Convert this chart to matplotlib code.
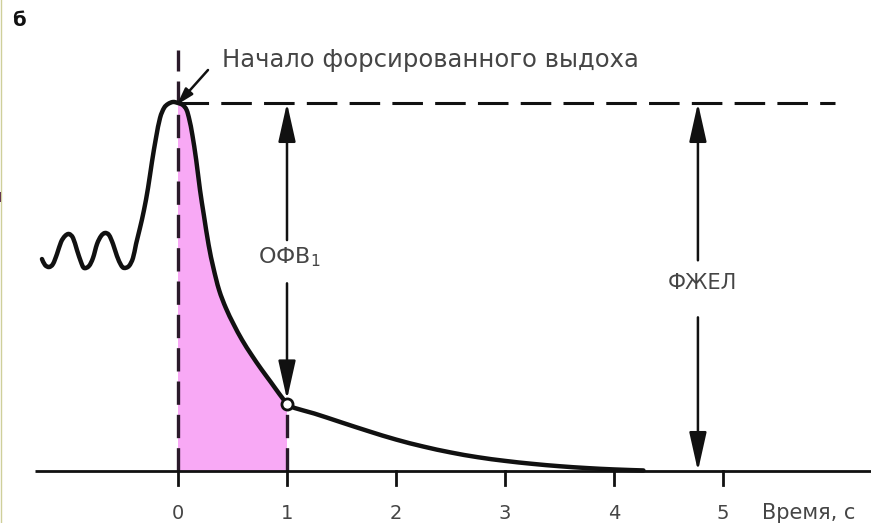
import matplotlib
matplotlib.use("Agg")
import matplotlib.pyplot as plt
from matplotlib.patches import FancyArrowPatch, Rectangle, PathPatch
from matplotlib.path import Path
from matplotlib.lines import Line2D

# Spirogram: lung volume (L) versus time (s); forced expiration starts at t = 0
t_tidal = [-1.248, -1.220, -1.183, -1.147, -1.110, -1.073, -1.037, -1.000,
           -0.963, -0.927, -0.890, -0.862, -0.817, -0.780, -0.743, -0.706,
           -0.670, -0.633, -0.596, -0.560, -0.523, -0.495, -0.450, -0.413,
           -0.385, -0.349, -0.312, -0.275, -0.239, -0.202, -0.165, -0.128,
           -0.092, -0.046]
v_tidal = [2.304, 2.239, 2.217, 2.250, 2.359, 2.489, 2.554, 2.576,
           2.533, 2.402, 2.272, 2.207, 2.228, 2.315, 2.467, 2.554,
           2.587, 2.565, 2.467, 2.337, 2.239, 2.207, 2.228, 2.315,
           2.467, 2.641, 2.837, 3.076, 3.359, 3.620, 3.837, 3.946,
           3.989, 4.011]

t_forced = [0.0, 0.044, 0.079, 0.105, 0.132, 0.167, 0.202, 0.237, 0.281,
            0.325, 0.377, 0.439, 0.509, 0.588, 0.675, 0.763, 0.851, 0.930, 1.0]
v_forced = [4.0, 3.978, 3.924, 3.815, 3.652, 3.380, 3.054, 2.783, 2.457,
            2.207, 1.967, 1.772, 1.598, 1.424, 1.261, 1.109, 0.967, 0.837, 0.728]

t_tail = [1.0, 1.07, 1.25, 1.5, 1.75, 2.0, 2.25, 2.5, 2.75, 3.0,
          3.25, 3.5, 3.75, 4.0, 4.27]
v_tail = [0.728, 0.685, 0.625, 0.528, 0.432, 0.342, 0.266, 0.202, 0.150,
          0.110, 0.078, 0.052, 0.032, 0.017, 0.006]

peak_volume = 4.0        # volume at start of forced expiration
fev1_time = 1.0
fev1_volume = 0.728      # volume remaining after 1 s
fvc_time = 4.77          # where the FVC bracket is drawn

time_ticks = [0, 1, 2, 3, 4, 5]
time_labels = ["0", "1", "2", "3", "4", "5"]

title_letter = "б"
start_label = "Начало форсированного выдоха"
fev1_label = "ОФВ$_1$"
fvc_label = "ФЖЕЛ"
x_label = "Время, с"

INK = "#111111"
TXT = "#454545"
PINK = "#f8a9f5"


def smooth_path(xs, ys):
    """Catmull-Rom curve through the given points as cubic Bezier segments."""
    pts = list(zip(xs, ys))
    n = len(pts)
    verts = [pts[0]]
    codes = [Path.MOVETO]
    for i in range(n - 1):
        p0 = pts[i - 1] if i > 0 else pts[i]
        p1, p2 = pts[i], pts[i + 1]
        p3 = pts[i + 2] if i + 2 < n else pts[i + 1]
        c1 = (p1[0] + (p2[0] - p0[0]) / 6, p1[1] + (p2[1] - p0[1]) / 6)
        c2 = (p2[0] - (p3[0] - p1[0]) / 6, p2[1] - (p3[1] - p1[1]) / 6)
        verts += [c1, c2, p2]
        codes += [Path.CURVE4] * 3
    return verts, codes


fig = plt.figure(figsize=(8.71, 5.23), dpi=100)
ax = fig.add_axes([0, 0, 1, 1])
ax.set_xlim(-178 / 109, (871 - 178) / 109)
ax.set_ylim(-52 / 92, 471 / 92)
ax.axis("off")

# shaded FEV1 region, bounded by the same smooth curve
fv, fc = smooth_path(t_forced, v_forced)
fill_path = Path(fv + [(fev1_time, 0), (0, 0), (0, 0)],
                 fc + [Path.LINETO, Path.LINETO, Path.CLOSEPOLY])
ax.add_patch(PathPatch(fill_path, facecolor=PINK, lw=0, zorder=1))

# baseline and ticks
ax.plot([(35 - 178) / 109, 7], [0, 0], color=INK, lw=2.0, zorder=3,
        solid_capstyle="butt")
for tk, lab in zip(time_ticks, time_labels):
    ax.plot([tk, tk], [0, -0.15], color=INK, lw=2.0, zorder=3)
    ax.text(tk, -0.46, lab, ha="center", va="center", fontsize=14,
            color=TXT)
ax.text((762 - 178) / 109, -0.46, x_label, ha="left", va="center",
        fontsize=15, color=TXT, clip_on=False)

# dashed guides
ax.plot([0, 0], [0, 4.58], color="#2a1a2a", lw=2.4, ls=(0, (7, 3)), zorder=2)
ax.plot([fev1_time, fev1_time], [0, fev1_volume], color="#2a1a2a", lw=2.4,
        ls=(0, (7, 3)), zorder=2)
ax.plot([0, 6.03], [peak_volume, peak_volume], color=INK, lw=2.2,
        ls=(0, (10, 4)), zorder=2)

# spirogram curve: breathing + forced part up to 1 s, then the tail
cv, cc = smooth_path(t_tidal + t_forced, v_tidal + v_forced)
ax.add_patch(PathPatch(Path(cv, cc), fill=False, edgecolor=INK, lw=3.2,
                       capstyle="round", joinstyle="round", zorder=4))
tv, tc = smooth_path(t_tail, v_tail)
ax.add_patch(PathPatch(Path(tv, tc), fill=False, edgecolor=INK, lw=3.2,
                       capstyle="round", joinstyle="round", zorder=4))
ax.plot([fev1_time], [fev1_volume], marker="o", ms=8, mfc="white",
        mec=INK, mew=2, zorder=5)


def arrow(x, y0, y1):
    a = FancyArrowPatch((x, y0), (x, y1),
                        arrowstyle="-|>,head_length=1.7,head_width=0.38",
                        mutation_scale=14, color=INK, lw=1.8,
                        shrinkA=0, shrinkB=0, zorder=5)
    ax.add_patch(a)


# FEV1 bracket
arrow(fev1_time, 2.51, peak_volume)
arrow(fev1_time, 2.04, fev1_volume + 0.05)
ax.text(fev1_time + 0.02, 2.32, fev1_label, ha="center", va="center",
        fontsize=16, color=TXT)

# FVC bracket
arrow(fvc_time, 2.29, peak_volume)
arrow(fvc_time, 1.67, 0)
ax.text(fvc_time + 0.04, 2.04, fvc_label, ha="center", va="center",
        fontsize=15, color=TXT)

# start-of-expiration annotation
ax.annotate("", xy=(-0.01, 3.98), xytext=((208 - 178) / 109, (471 - 70) / 92),
            arrowprops=dict(arrowstyle="-|>,head_length=1.0,head_width=0.3",
                            color=INK, lw=1.8, shrinkA=0, shrinkB=0),
            zorder=6)
ax.text((222 - 178) / 109, (471 - 60) / 92, start_label, ha="left",
        va="center", fontsize=17.5, color=TXT)

ax.text((12 - 178) / 109, (471 - 21) / 92, title_letter, ha="left",
        va="center", fontsize=14, fontweight="bold", color=INK)

# thin frame edge on the left
fig.add_artist(Line2D([0.0006, 0.0006], [0, 1], color="#cfcf9a", lw=1.0))
fig.add_artist(Rectangle((0, 1 - 202 / 523), 2 / 871, 10 / 523,
                         color="#4a1040", lw=0))

fig.savefig("out.png", dpi=100)
